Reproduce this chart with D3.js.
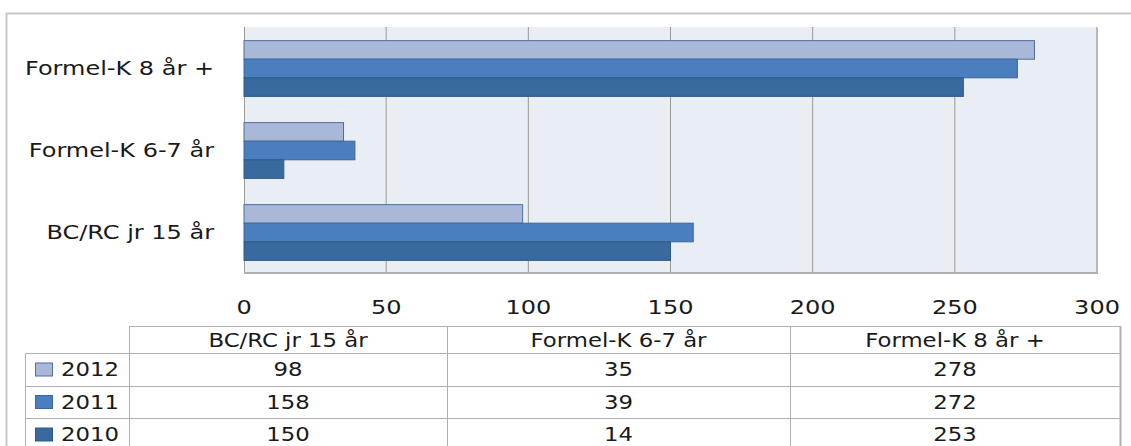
<!DOCTYPE html>
<html>
<head>
<meta charset="utf-8">
<script src="https://cdn.jsdelivr.net/npm/d3@7/dist/d3.min.js"></script>
<style>
  html, body { margin: 0; padding: 0; background: #fff; }
  svg text { font-family: 'DejaVu Sans', sans-serif; fill: #1a1a1a; }
</style>
</head>
<body>
<svg id="chart" width="1131" height="446"></svg>
<script>
const categories = ['Formel-K 8 år +', 'Formel-K 6-7 år', 'BC/RC jr 15 år'];
const tableCategories = ['BC/RC jr 15 år', 'Formel-K 6-7 år', 'Formel-K 8 år +'];
const years = ['2012', '2011', '2010'];
const values2012 = [98, 35, 278];
const values2011 = [158, 39, 272];
const values2010 = [150, 14, 253];
const ticks = [0, 50, 100, 150, 200, 250, 300];

const seriesValues = { '2012': values2012, '2011': values2011, '2010': values2010 };
const val = (yr, c) => seriesValues[yr][tableCategories.indexOf(c)];
const colors = { '2012': '#A9B8D8', '2011': '#4A7EBE', '2010': '#386A9F' };
const strokes = { '2012': '#4F6F9E', '2011': '#3A669C', '2010': '#2E5A8A' };
const SX = 1.2; // text in the original is stretched horizontally

const svg = d3.select('#chart');

function label(g, x, y, str, size, anchor) {
  return g.append('text')
    .attr('transform', `translate(${x},${y}) scale(${SX},1)`)
    .attr('dy', '0.35em')
    .attr('text-anchor', anchor || 'middle')
    .attr('font-size', size)
    .text(str);
}

// outer frame
svg.append('path')
  .attr('d', 'M6.5,446 V13.5 H1131')
  .attr('fill', 'none').attr('stroke', '#c8c8c8').attr('stroke-width', 2);

const plot = { left: 244, right: 1097, top: 27, bottom: 273 };
const x = d3.scaleLinear().domain([0, 300]).range([plot.left, plot.right]);
const y = d3.scaleBand().domain(categories).range([plot.top, plot.bottom]).paddingInner(0.32).paddingOuter(0.16);
const yInner = d3.scaleBand().domain(years).range([0, y.bandwidth()]);

svg.append('rect')
  .attr('x', plot.left).attr('y', plot.top)
  .attr('width', plot.right - plot.left).attr('height', plot.bottom - plot.top)
  .attr('fill', '#E9EDF4');

// grid lines
svg.append('g').selectAll('line').data(ticks.slice(1)).join('line')
  .attr('x1', d => x(d)).attr('x2', d => x(d))
  .attr('y1', plot.top).attr('y2', plot.bottom)
  .attr('stroke', d => d === 300 ? '#b8b8b8' : '#9a9a9a')
  .attr('stroke-width', d => d === 300 ? 2 : 1);

// axis lines
svg.append('line').attr('x1', plot.left + 0.5).attr('x2', plot.left + 0.5)
  .attr('y1', plot.top).attr('y2', plot.bottom).attr('stroke', '#9a9a9a');
svg.append('line').attr('x1', plot.left).attr('x2', plot.right + 1)
  .attr('y1', plot.bottom).attr('y2', plot.bottom).attr('stroke', '#b0b0b0').attr('stroke-width', 2);

// bars
const groups = svg.append('g').selectAll('g').data(categories).join('g')
  .attr('transform', d => `translate(0,${y(d)})`);
groups.selectAll('rect').data(c => years.map(yr => ({ yr, v: val(yr, c) }))).join('rect')
  .attr('x', x(0))
  .attr('y', d => yInner(d.yr) + 0.5)
  .attr('width', d => x(d.v) - x(0))
  .attr('height', yInner.bandwidth())
  .attr('fill', d => colors[d.yr])
  .attr('stroke', d => strokes[d.yr])
  .attr('stroke-width', 1);

// category labels
const catG = svg.append('g');
categories.forEach(c => label(catG, 214, y(c) + y.bandwidth() / 2, c, 20, 'end'));

// x tick labels
const tickG = svg.append('g');
ticks.forEach(t => label(tickG, x(t), 307, t, 20, 'middle'));

// data table
const colX = [129, 447, 790, 1120];
const rowY = [326, 353, 386, 418, 451];
const tbl = svg.append('g').attr('stroke', '#b0b0b0').attr('fill', 'none');
tbl.append('line').attr('x1', colX[0]).attr('x2', colX[3]).attr('y1', rowY[0] + 0.5).attr('y2', rowY[0] + 0.5);
rowY.slice(1, 4).forEach(ry => {
  tbl.append('line').attr('x1', 25).attr('x2', colX[3]).attr('y1', ry + 0.5).attr('y2', ry + 0.5);
});
colX.forEach((cx, i) => {
  tbl.append('line').attr('x1', cx + 0.5).attr('x2', cx + 0.5)
    .attr('y1', rowY[0]).attr('y2', 446)
    .attr('stroke-width', i === 3 ? 2 : 1);
});
tbl.append('line').attr('x1', 25.5).attr('x2', 25.5).attr('y1', rowY[1]).attr('y2', 446);

// header texts
const headG = svg.append('g');
tableCategories.forEach((c, i) => label(headG, (colX[i] + colX[i + 1]) / 2, (rowY[0] + rowY[1]) / 2 + 1, c, 19, 'middle'));

// rows
const rowG = svg.append('g');
years.forEach((yr, r) => {
  const cy = (rowY[r + 1] + rowY[r + 2]) / 2;
  rowG.append('rect').attr('x', 35.5).attr('y', cy - 6.5).attr('width', 17).attr('height', 13)
    .attr('fill', colors[yr]).attr('stroke', strokes[yr]);
  label(rowG, 61, cy, yr, 19, 'start');
  tableCategories.forEach((c, i) => {
    label(rowG, (colX[i] + colX[i + 1]) / 2, cy, val(yr, c), 19, 'middle');
  });
});
</script>
</body>
</html>
